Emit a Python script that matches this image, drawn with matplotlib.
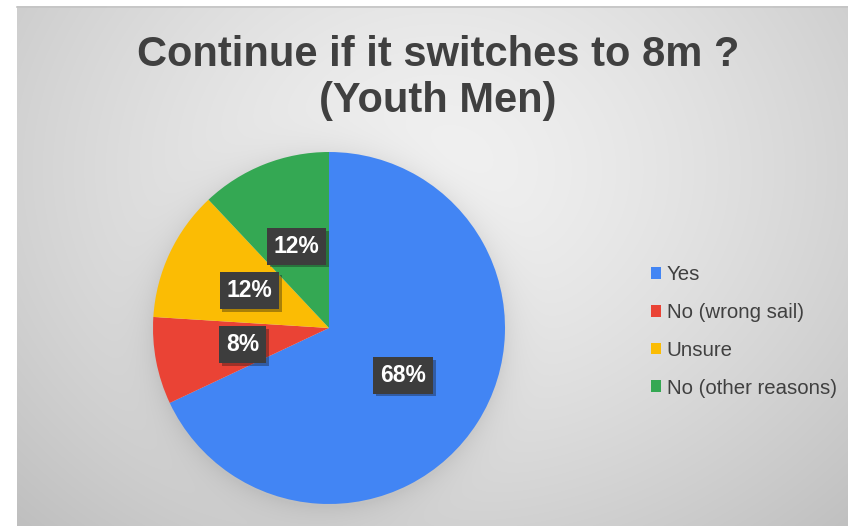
import numpy as np
import matplotlib
matplotlib.use('Agg')
import matplotlib.pyplot as plt
import matplotlib.patheffects as pe

# survey answers (percent of respondents)
labels = ['Yes', 'No (wrong sail)', 'Unsure', 'No (other reasons)']
values = [68, 8, 12, 12]
colors = ['#4285F4', '#EA4335', '#FBBC04', '#34A853']
title = 'Continue if it switches to 8m ?\n(Youth Men)'

W, H = 848, 526
fig = plt.figure(figsize=(W / 100, H / 100), dpi=100, facecolor='white')

# grey card with a soft radial gradient and a shadow under the pie
bg = fig.add_axes([0, 0, 1, 1])
bg.set_xlim(0, W)
bg.set_ylim(H, 0)
bg.axis('off')
x0, y0 = 17, 6
xx, yy = np.meshgrid(np.arange(x0, W) + 0.5, np.arange(y0, H) + 0.5)
d = np.sqrt(((xx - 440) / 520) ** 2 + ((yy - 170) / 430) ** 2)
shade = 0.945 - 0.16 * d ** 1.4
rp = np.sqrt((xx - 329) ** 2 + (yy - 331) ** 2) - 176
shade -= 0.07 * np.exp(-np.clip(rp, 0, None) / 14) * (rp > -5)
shade = np.clip(shade, 0, 1)
bg.imshow(np.dstack([shade] * 3), extent=(x0, W, H, y0), interpolation='bilinear', aspect='auto')
bg.plot([x0, W], [y0 + 0.5, y0 + 0.5], color='#c4c4c4', lw=1.2)
bg.set_xlim(0, W)
bg.set_ylim(H, 0)

fig.text(438 / W, 1 - 78 / H, title, ha='center', va='center', fontsize=30,
         fontweight='bold', color='#404040', family='Liberation Sans',
         linespacing=1.2)

# pie
cx, cy, r = 329, 328, 176
ax = fig.add_axes([(cx - r) / W, (H - cy - r) / H, 2 * r / W, 2 * r / H])
wedges, texts, autotexts = ax.pie(values, colors=colors, startangle=90, counterclock=False,
                                  autopct=lambda p: f'{p:.0f}%', pctdistance=0.5,
                                  wedgeprops=dict(linewidth=0))
ax.set_xlim(-1, 1)
ax.set_ylim(-1, 1)
for t in autotexts:
    t.set_color('white')
    t.set_fontsize(16.5)
    t.set_fontweight('bold')
    t.set_family('Liberation Sans')
    t.set_bbox(dict(boxstyle='square,pad=0.3', fc='#3d3d3d', ec='none'))
    t.get_bbox_patch().set_path_effects([pe.SimplePatchShadow(offset=(2, -2), alpha=0.35), pe.Normal()])

leg = fig.legend(wedges, labels, loc='upper left', bbox_to_anchor=(641 / W, 1 - 255 / H),
                 frameon=False, handlelength=0.5, handleheight=0.5,
                 handletextpad=0.25, labelspacing=0.92, borderpad=0,
                 prop={'family': 'Liberation Sans', 'size': 14.7})
for t in leg.get_texts():
    t.set_color('#404040')

fig.savefig('out.png', dpi=100)
